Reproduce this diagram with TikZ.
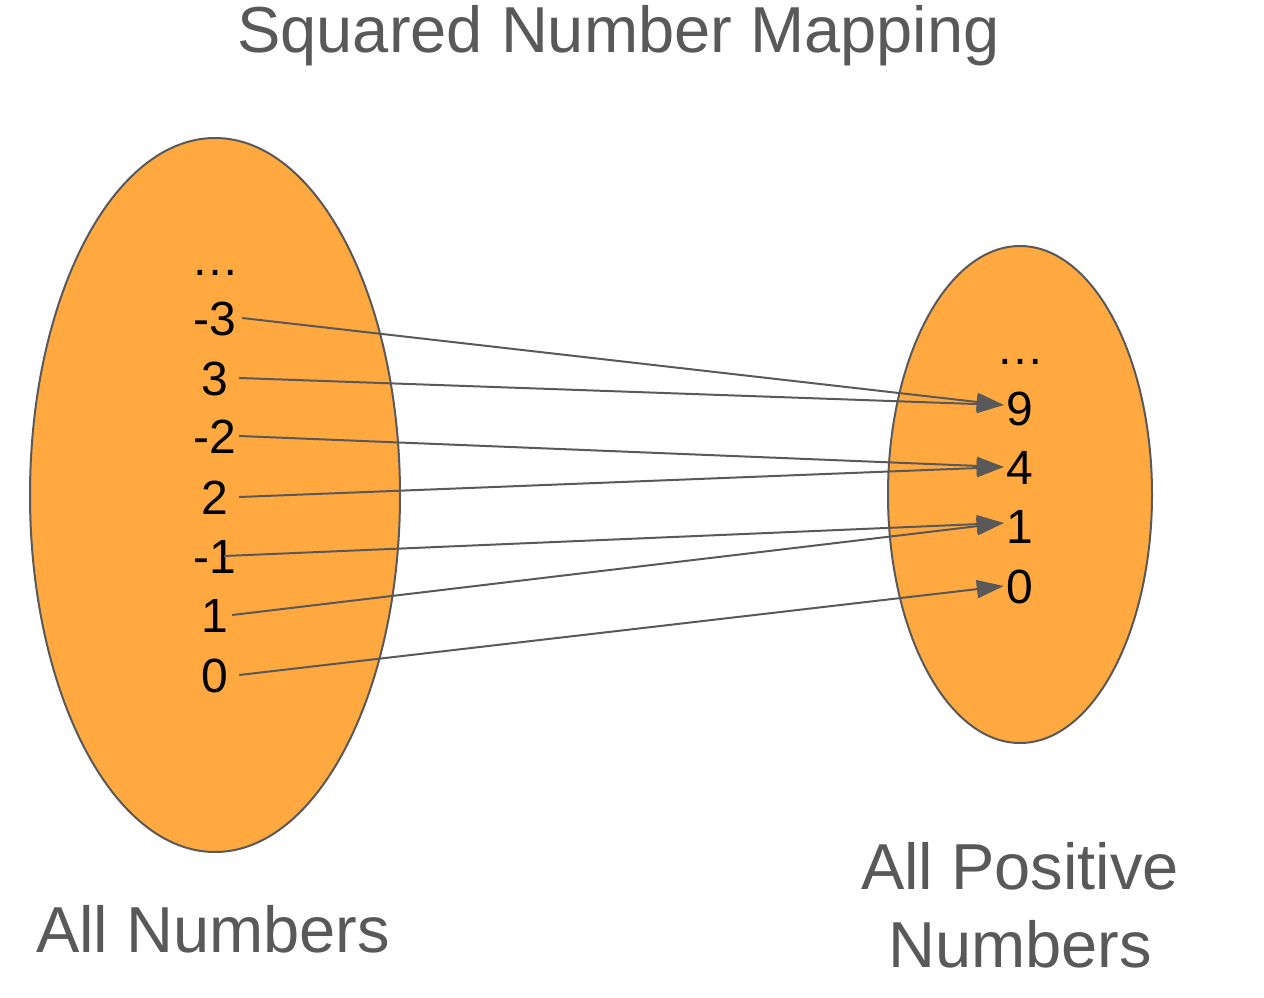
\documentclass[tikz,border=0pt]{standalone}
\usepackage{fontspec}
\setmainfont{Liberation Sans}
\usepackage{tikz}
\usetikzlibrary{shapes.geometric, arrows.meta, positioning}
\definecolor{setorange}{HTML}{FFA940}
\definecolor{textgray}{HTML}{595959}

\begin{document}
\begin{tikzpicture}[x=1pt, y=1pt,
    setnode/.style={ellipse, draw=textgray, fill=setorange, line width=2pt, inner sep=0pt},
    num/.style={inner sep=0pt, minimum width=48pt, text height=34pt, text depth=0pt, font=\fontsize{48}{56}\selectfont},
    rnum/.style={num, minimum width=32pt},
    arrow/.style={-{Triangle[length=27pt, width=18pt]}, line width=2pt, color=textgray},
    lbl/.style={font=\fontsize{65}{78}\selectfont, text=textgray, inner sep=0pt, align=center}
]
    \useasboundingbox (0,0) rectangle (1264,-998);

    % --- Title ---
    \node[lbl, anchor=base] (title) at (618.5,-53) {Squared Number Mapping};

    % --- Sets ---
    \node[setnode, minimum width=370pt, minimum height=714pt] (allset) at (215,-495) {};
    \node[setnode, minimum width=264pt, minimum height=497pt] (posset) at (1020,-494.5) {};

    % --- Left set: all numbers ---
    \node[num] (ldots) at (215,-258) {…};
    \node[num] (lm3) at (215,-318) {-3};
    \node[num] (l3) at (215,-378) {3};
    \node[num] (lm2) at (215,-436) {-2};
    \node[num] (l2) at (215,-497) {2};
    \node[num] (lm1) at (215,-556) {-1};
    \node[num] (l1) at (215,-615) {1};
    \node[num] (l0) at (215,-675) {0};

    % --- Right set: squares ---
    \node[rnum] (rdots) at (1020,-347) {…};
    \node[rnum] (r9) at (1020,-408) {9};
    \node[rnum] (r4) at (1020,-467) {4};
    \node[rnum] (r1) at (1020,-526) {1};
    \node[rnum] (r0) at (1020,-586) {0};

    % --- Set labels ---
    \node[lbl, anchor=base] (alllbl) at (213,-952) {All Numbers};
    \node[lbl, anchor=base] (poslbl) at (1020,-967) {All Positive\\Numbers};

    % Mapping x -> x^2
    \draw[arrow] ([xshift=3pt]lm3.east) -- ([yshift=3pt]r9.west);
    \draw[arrow] (l3.east) -- ([yshift=3pt]r9.west);
    \draw[arrow] (lm2.east) -- (r4.west);
    \draw[arrow] (l2.east) -- (r4.west);
    \draw[arrow] ([xshift=-15pt]lm1.east) -- ([yshift=3pt]r1.west);
    \draw[arrow] ([xshift=-7pt]l1.east) -- ([yshift=3pt]r1.west);
    \draw[arrow] (l0.east) -- (r0.west);
\end{tikzpicture}
\end{document}
